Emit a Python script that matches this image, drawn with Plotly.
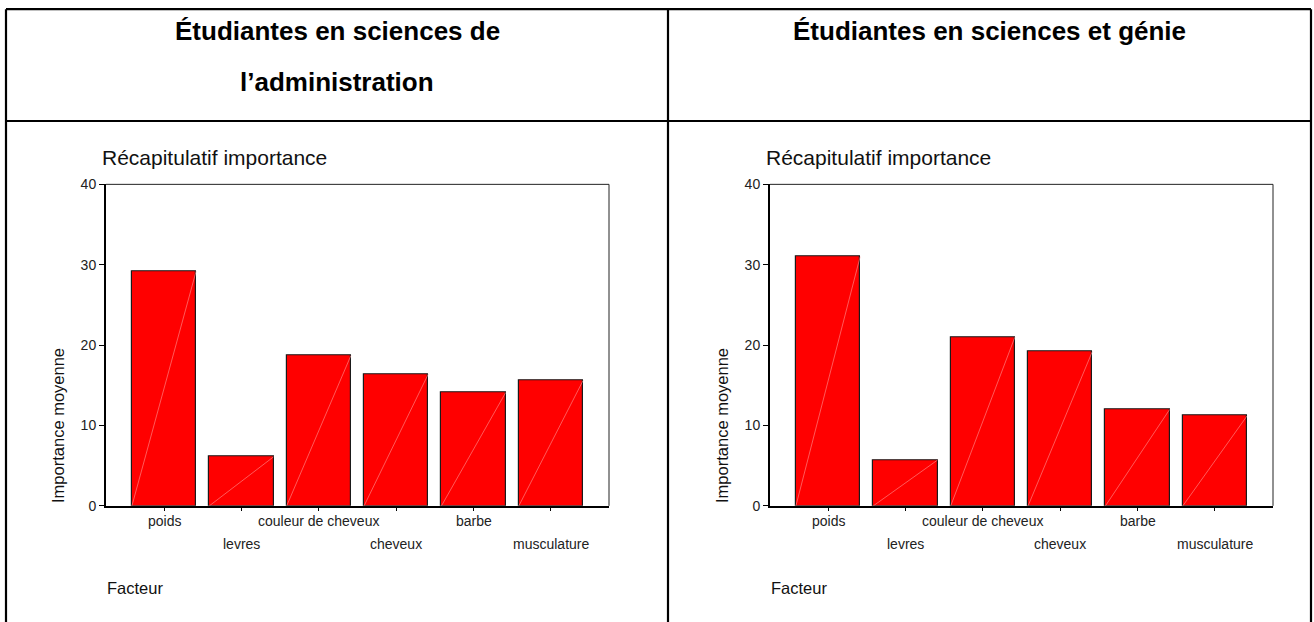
import plotly.graph_objects as go

# Data
facteurs = ["poids", "levres", "couleur de cheveux", "cheveux", "barbe", "musculature"]
importance_admin = [29.2, 6.1, 18.7, 16.4, 14.1, 15.6]
importance_genie = [31.0, 5.7, 21.0, 19.2, 12.0, 11.2]
y_ticks = [0, 10, 20, 30, 40]

titres_groupes = [["Étudiantes en sciences de", "l’administration"],
                  ["Étudiantes en sciences et génie"]]
titre_graphique = "Récapitulatif importance"
titre_axe_y = "Importance moyenne"
titre_axe_x = "Facteur"

W, H = 1314, 622
FONT = "Liberation Sans, Arial, sans-serif"
FONT_TITLE = "Liberation Sans Narrow, Arial Narrow, Liberation Sans, Arial, sans-serif"
BAR_W = 0.83


def px(x):
    return x / W


def py(y):
    return 1 - y / H


fig = go.Figure()

# table layout (pixel positions)
left_border, right_border, divider = 6, 1311, 668
top_border, header_line = 1.2, 116
panel_offsets = [0, 664]
plot_left, plot_right, plot_top, plot_bottom = 106, 609, 181, 511

series = [importance_admin, importance_genie]
idx = list(range(len(facteurs)))
annotations = []
shapes = []

for k, vals in enumerate(series):
    xa = "x" if k == 0 else "x2"
    ya = "y" if k == 0 else "y2"
    off = panel_offsets[k]

    fig.add_trace(go.Bar(
        x=idx, y=vals, width=BAR_W, xaxis=xa, yaxis=ya,
        marker=dict(color="#FF0000", line=dict(color="#1a1a1a", width=1.2)),
        hoverinfo="skip", showlegend=False,
    ))
    # faint diagonal inside each bar
    xs, ys = [], []
    for i, v in zip(idx, vals):
        xs += [i - BAR_W / 2, i + BAR_W / 2, None]
        ys += [0, v, None]
    fig.add_trace(go.Scatter(
        x=xs, y=ys, mode="lines", xaxis=xa, yaxis=ya,
        line=dict(color="rgba(255,150,150,0.85)", width=0.7),
        hoverinfo="skip", showlegend=False,
    ))

    # thin frame on top and right of the plot area
    shapes.append(dict(type="line", xref=f"{xa} domain", yref=f"{ya} domain",
                       x0=0, x1=1, y0=1, y1=1, line=dict(color="#222", width=1)))
    shapes.append(dict(type="line", xref=f"{xa} domain", yref=f"{ya} domain",
                       x0=1, x1=1, y0=0, y1=1, line=dict(color="#222", width=1)))

    # category labels on two staggered rows
    for i, name in enumerate(facteurs):
        annotations.append(dict(
            x=i, y=0, xref=xa, yref=ya, text=name, showarrow=False,
            xanchor="center", yanchor="middle",
            yshift=-15 if i % 2 == 0 else -38,
            font=dict(family=FONT, size=14, color="#222"),
        ))

    annotations.append(dict(
        x=px(100 + off), y=py(153), xref="paper", yref="paper",
        text=titre_graphique, showarrow=False, xanchor="left", yanchor="middle",
        font=dict(family=FONT, size=21, color="#111"),
    ))
    annotations.append(dict(
        x=px(58 + off), y=py(429), xref="paper", yref="paper",
        text=titre_axe_y, showarrow=False, textangle=-90,
        xanchor="center", yanchor="middle",
        font=dict(family=FONT, size=16.5, color="#111"),
    ))
    annotations.append(dict(
        x=px(105 + off), y=py(595), xref="paper", yref="paper",
        text=titre_axe_x, showarrow=False, xanchor="left", yanchor="middle",
        font=dict(family=FONT, size=16.5, color="#111"),
    ))

# header titles
centres = [(left_border + divider) / 2, (divider + right_border) / 2]
title_rows = [24, 76]
for k, lignes in enumerate(titres_groupes):
    for j, ligne in enumerate(lignes):
        annotations.append(dict(
            x=px(centres[k]), y=py(title_rows[j]), xref="paper", yref="paper",
            text=f"<b>{ligne}</b>", showarrow=False,
            xanchor="center", yanchor="middle",
            font=dict(family=FONT_TITLE, size=26, color="#000"),
        ))

# table borders
border = dict(color="#000", width=2.2)
shapes += [
    dict(type="line", xref="paper", yref="paper", x0=px(left_border), x1=px(left_border),
         y0=py(top_border), y1=-0.05, line=border),
    dict(type="line", xref="paper", yref="paper", x0=px(right_border), x1=px(right_border),
         y0=py(top_border), y1=-0.05, line=border),
    dict(type="line", xref="paper", yref="paper", x0=px(divider), x1=px(divider),
         y0=py(top_border), y1=-0.05, line=border),
    dict(type="line", xref="paper", yref="paper", x0=px(left_border), x1=px(right_border),
         y0=py(top_border), y1=py(top_border), line=border),
    dict(type="line", xref="paper", yref="paper", x0=px(left_border), x1=px(right_border),
         y0=py(header_line), y1=py(header_line), line=border),
]

xaxis_common = dict(
    range=[-0.75, len(facteurs) - 0.25], showline=True, linewidth=2, linecolor="#000",
    ticks="outside", ticklen=3, tickwidth=1, tickcolor="#000",
    tickvals=idx, showticklabels=False, showgrid=False, zeroline=False, fixedrange=True,
)
yaxis_common = dict(
    range=[0, 40], showline=True, linewidth=2, linecolor="#000",
    ticks="outside", ticklen=5, tickwidth=1, tickcolor="#000",
    tickvals=y_ticks, tickfont=dict(family=FONT, size=14, color="#222"),
    showgrid=False, zeroline=False, fixedrange=True,
    domain=[py(plot_bottom), py(plot_top)],
)

fig.update_layout(
    width=W, height=H,
    margin=dict(l=0, r=0, t=0, b=0),
    paper_bgcolor="white", plot_bgcolor="white",
    showlegend=False, bargap=0,
    xaxis=dict(xaxis_common, domain=[px(plot_left), px(plot_right)], anchor="y"),
    yaxis=dict(yaxis_common, anchor="x"),
    xaxis2=dict(xaxis_common, domain=[px(plot_left + panel_offsets[1]), px(plot_right + panel_offsets[1])], anchor="y2"),
    yaxis2=dict(yaxis_common, anchor="x2"),
    annotations=annotations,
    shapes=shapes,
)

fig.write_html("out.html")
